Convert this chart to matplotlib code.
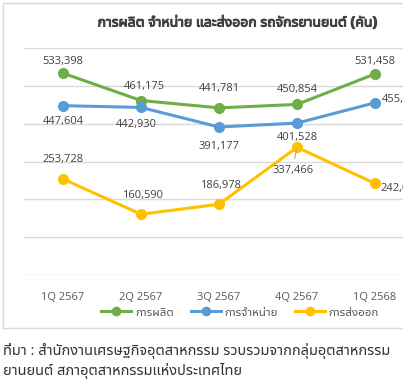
import matplotlib
matplotlib.use("Agg")
import matplotlib.pyplot as plt
import matplotlib.patheffects as pe
from matplotlib.patches import Rectangle

plt.rcParams['font.family'] = ['Noto Sans Thai UI', 'Open Sans', 'DejaVu Sans']

quarters = ["1Q 2567", "2Q 2567", "3Q 2567", "4Q 2567", "1Q 2568"]
production = [533398, 461175, 441781, 450854, 531458]
sales = [447604, 442930, 391177, 401528, 455241]
exports = [253728, 160590, 186978, 337466, 242033]
series_names = ["การผลิต", "การจำหน่าย", "การส่งออก"]

title = "การผลิต จำหน่าย และส่งออก รถจักรยานยนต์ (คัน)"
source = ("ที่มา : สำนักงานเศรษฐกิจอุตสาหกรรม รวบรวมจากกลุ่มอุตสาหกรรม\n"
          "ยานยนต์ สภาอุตสาหกรรมแห่งประเทศไทย")

colors = ["#70AD47", "#5B9BD5", "#FFC000"]
# label offsets in pixels (dx, dy), ha
offsets = [
    [(0, 12, "center"), (3, 14, "center"), (0, 19, "center"), (0, 15, "center"), (0, 12, "center")],
    [(0, -16, "center"), (-5, -17, "center"), (0, -19, "center"), (0, -14, "center"), (7, 3, "left")],
    [(0, 20, "center"), (2, 19, "center"), (2, 19, "center"), (-4, -23, "center"), (5, -5, "left")],
]

W, H = 403, 382
fig = plt.figure(figsize=(W / 100, H / 100), dpi=100)

# chart frame
fig.patches.append(Rectangle((3 / W, 1 - 328 / H), 410 / W, 325 / H,
                             transform=fig.transFigure, fill=False,
                             edgecolor="#D9D9D9", linewidth=1))

ax = fig.add_axes([24 / W, 1 - 275 / H, 390 / W, 227 / H])
x = range(len(quarters))
handles = []
for vals, col, offs in zip([production, sales, exports], colors, offsets):
    h, = ax.plot(x, vals, color=col, lw=2.2, marker="o", ms=7, zorder=3)
    handles.append(h)
    for i, v in enumerate(vals):
        dx, dy, ha = offs[i]
        ax.annotate(f"{v:,}", (i, v), xytext=(dx, dy), textcoords="offset pixels",
                    ha=ha, va="center", fontsize=8, color="#404040", zorder=4)

# leader line for the 4Q export label
ax.annotate("", (3, exports[3]), xytext=(-3, -14), textcoords="offset pixels",
            arrowprops=dict(arrowstyle="-", color="#A6A6A6", lw=0.8))

ax.set_xlim(-0.5, 4.5)
ax.set_ylim(0, 600000)
ax.set_yticks(range(0, 600001, 100000))
ax.yaxis.grid(True, color="#D9D9D9", lw=1)
ax.set_axisbelow(True)
ax.tick_params(axis="y", left=False, labelleft=False)
ax.set_xticks(list(x))
ax.set_xticklabels(quarters, fontsize=8, color="#595959")
ax.tick_params(axis="x", length=0, pad=12)
for s in ax.spines.values():
    s.set_visible(False)

# the UI face has no bold, so thicken it with a stroke
fig.text(237 / W, 1 - 22 / H, title, ha="center", va="center",
         fontsize=10.1, fontweight="bold", color="#404040",
         path_effects=[pe.withStroke(linewidth=0.7, foreground="#404040")])

fig.legend(handles, series_names, loc="center", bbox_to_anchor=(240 / W, 1 - 312 / H),
           ncol=3, frameon=False, fontsize=8.3, handlelength=2.6, columnspacing=1.5,
           handletextpad=0.3, labelcolor="#595959", markerscale=0.85)

fig.text(3 / W, 1 - 361 / H, source, ha="left", va="center", fontsize=10.5,
         color="#333333", linespacing=1.4)

fig.savefig("out.png")
